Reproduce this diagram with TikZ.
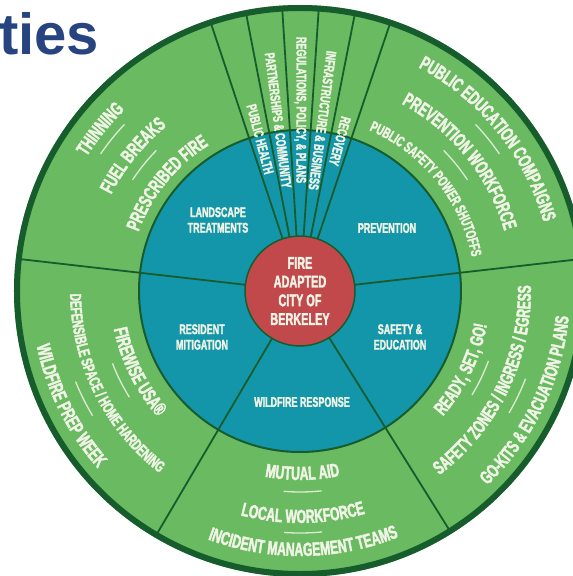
\documentclass[tikz,border=0pt]{standalone}
\usepackage{fontspec}
\usepackage{tikz}
\usetikzlibrary{decorations.text}
\newfontfamily\wheelfont{Liberation Sans Bold}[FakeStretch=0.64,FakeBold=2]
\newfontfamily\titlefont{Liberation Sans}
\definecolor{leaf}{HTML}{6ABA62}
\definecolor{forest}{HTML}{165C2D}
\definecolor{lagoon}{HTML}{1496AA}
\definecolor{ember}{HTML}{C1494B}
\definecolor{chalk}{HTML}{F0F4E6}
\definecolor{navy}{HTML}{284480}
% text bent along a ring: radius, from, to, size, text
\newcommand{\arclabel}[5]{%
    \path[decorate,decoration={text along path,text align=center,text color=chalk,
        text={|\wheelfont\fontsize{#4}{#4}\selectfont|#5}}]
        (#2:#1) arc[start angle=#2,end angle=#3,radius=#1];}

\begin{document}
\begin{tikzpicture}[x=1pt,y=1pt,
        divider/.style={forest,line width=1.8pt},
        rule/.style={chalk!85!leaf,line width=1.3pt},
        area/.style={text=chalk,align=center,font=\wheelfont\fontsize{14}{15.5}\selectfont},
        spoke/.style={text=chalk,inner sep=0pt,font=\wheelfont\fontsize{14}{14}\selectfont},
        core/.style={circle,minimum size=110pt,fill=ember,draw=forest,line width=1.5pt,
            text=chalk,align=center,font=\wheelfont\fontsize{17}{18.7}\selectfont}]
        % Page
        \useasboundingbox (-300,-285) rectangle (273,291);
        \clip (-300,-285) rectangle (273,291);
        \node[anchor=base west,inner sep=0pt,text=navy,font=\titlefont\bfseries\fontsize{58}{58}\selectfont] (title) at (-301,236) {ties};
        % Rings
        \fill[leaf] (0,0) circle[radius=286];
        \draw[forest,line width=6pt] (0,0) circle[radius=283];
        \filldraw[fill=lagoon,draw=forest,line width=2pt] (0,0) circle[radius=161];
        % Spokes
        \foreach \a in {173.5,239.5,302,6.5,71.4,78.8,86.2,93.6,101,108.4}
            \draw[divider] (0,0) -- (\a:281);
        % Centre
        \node[core] (core) at (0,0) {FIRE\\ADAPTED\\CITY OF\\BERKELEY};
        % Inner ring labels
        \node[area] (landscape) at (-82,71) {LANDSCAPE\\TREATMENTS};
        \node[area] (prevention) at (87,63) {PREVENTION};
        \node[area] (resident) at (-98,-46) {RESIDENT\\MITIGATION};
        \node[area] (safety) at (100,-46) {SAFETY \&\\EDUCATION};
        \node[area] (response) at (2,-111) {WILDFIRE RESPONSE};
        % Narrow wedges
        \foreach \ang/\rad/\nm/\txt in {104.7/157/health/PUBLIC HEALTH,
                97.3/172/community/PARTNERSHIPS \& COMMUNITY,
                89.9/181/plans/{REGULATIONS, POLICY, \& PLANS},
                82.5/172/business/INFRASTRUCTURE \& BUSINESS,
                75.1/155/recovery/RECOVERY}
            \node[spoke,rotate=\ang-180] (\nm) at (\ang:\rad) {\txt};
        % Outer ring, upper sectors
        \arclabel{252}{173.5}{108.4}{19.5}{THINNING}
        \arclabel{212}{173.5}{108.4}{19.5}{FUEL BREAKS}
        \arclabel{172}{173.5}{108.4}{19.5}{PRESCRIBED FIRE}
        \arclabel{253}{71.4}{6.5}{19.5}{PUBLIC EDUCATION COMPAIGNS}
        \arclabel{213}{71.4}{6.5}{19.5}{PREVENTION WORKFORCE}
        \arclabel{175}{71.4}{6.5}{15}{PUBLIC SAFETY POWER SHUTOFFS}
        % Outer ring, lower sectors
        \arclabel{190}{173.5}{239.5}{19.5}{FIREWISE USA®}
        \arclabel{230}{173.5}{239.5}{16}{DEFENSIBLE SPACE / HOME HARDENING}
        \arclabel{269}{173.5}{239.5}{19.5}{WILDFIRE PREP WEEK}
        \arclabel{189}{239.5}{302}{19}{MUTUAL AID}
        \arclabel{232}{239.5}{302}{19}{LOCAL WORKFORCE}
        \arclabel{265}{239.5}{302}{19}{INCIDENT MANAGEMENT TEAMS}
        \arclabel{190}{302}{366.5}{19}{READY, SET, GO!}
        \arclabel{231}{302}{366.5}{19}{SAFETY ZONES / INGRESS / EGRESS}
        \arclabel{270}{302}{366.5}{19}{GO-KITS {\&} EVACUATION PLANS}
        % Short rules between rows
        \foreach \m in {141,39,206.5,270.75,334.25} {
            \draw[rule] ({\m-5.4}:201) arc[start angle=\m-5.4,end angle=\m+5.4,radius=201];
            \draw[rule] ({\m-4.5}:242) arc[start angle=\m-4.5,end angle=\m+4.5,radius=242];
        }
\end{tikzpicture}
\end{document}
